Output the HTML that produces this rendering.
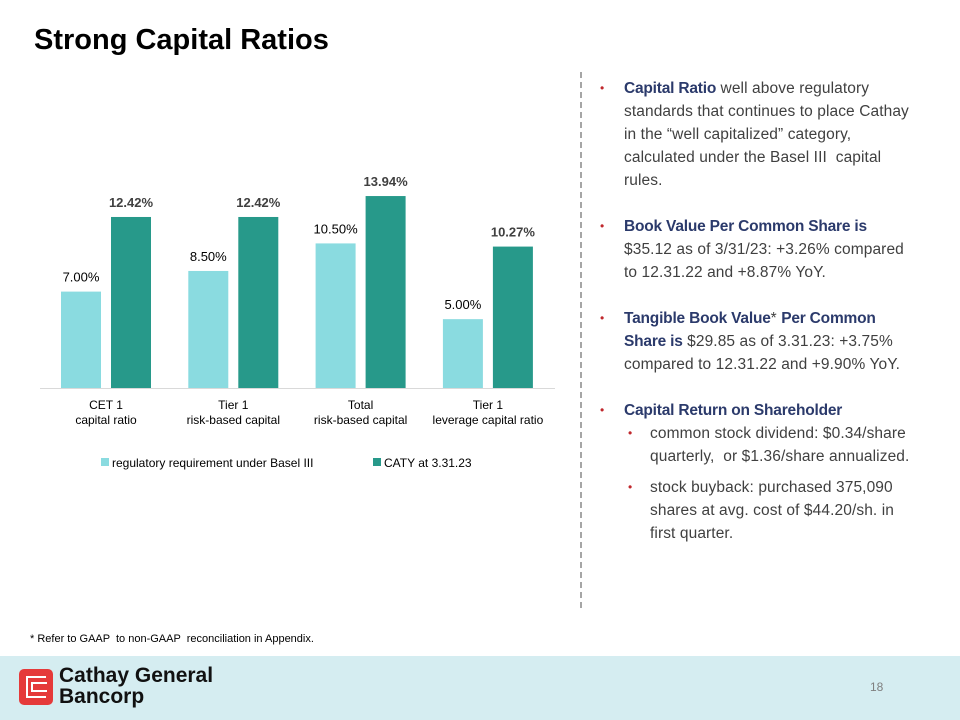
<!DOCTYPE html>
<html><head><meta charset="utf-8"><style>
body{margin:0;width:960px;height:720px;position:relative;background:#fff;font-family:"Liberation Sans",sans-serif;overflow:hidden}
.abs{position:absolute}
h1{position:absolute;left:34px;top:24px;margin:0;font-size:29px;font-weight:bold;color:#000}
.txt{font-size:15.5px;color:#404040;line-height:23px;white-space:nowrap;letter-spacing:0.1px}
.b{font-weight:bold;color:#2b3a6b;letter-spacing:-0.2px}
.bul{position:absolute;color:#c0282d;font-size:12px}
</style></head><body>
<h1>Strong Capital Ratios</h1>
<svg class="abs" style="left:0;top:0" width="570" height="490">
<g id="bars"></g>
<line x1="40" y1="388.5" x2="555" y2="388.5" stroke="#d9d9d9"/>
<g id="labels" font-family="Liberation Sans" font-size="12" fill="#000" text-anchor="middle"></g>
<rect x="101" y="458" width="8" height="8" fill="#8adbe0"/>
<text x="112" y="467" font-size="12">regulatory requirement under Basel III</text>
<rect x="373" y="458" width="8" height="8" fill="#27998a"/>
<text x="384" y="467" font-size="12">CATY at 3.31.23</text>
</svg>
<script>
const categories=[["CET 1","capital ratio"],["Tier 1","risk-based capital"],["Total","risk-based capital"],["Tier 1","leverage capital ratio"]];
const regulatory=[7.00,8.50,10.50,5.00];
const caty=[12.42,12.42,13.94,10.27];
const ns="http://www.w3.org/2000/svg";
const base=388,scale=13.77,g0=61,step=127.3,bw=40;
const y=v=>base-v*scale;
const bars=document.getElementById('bars'),labs=document.getElementById('labels');
function mk(t,a,p){const e=document.createElementNS(ns,t);for(const k in a)e.setAttribute(k,a[k]);p.appendChild(e);return e;}
categories.forEach((c,i)=>{
 const x1=g0+i*step,x2=x1+50;
 const r1=mk('rect',{x:x1,y:y(regulatory[i]),width:bw,height:regulatory[i]*scale,fill:'#8adbe0'},bars);
 
 
 const r2=mk('rect',{x:x2,y:y(caty[i]),width:bw,height:caty[i]*scale,fill:'#27998a'},bars);
 
 
 const t1=mk('text',{x:x1+bw/2,y:y(regulatory[i])-10,'font-size':13},labs);t1.textContent=regulatory[i].toFixed(2)+'%';
 
 
 const t2=mk('text',{x:x2+bw/2,y:y(caty[i])-10,'font-size':13,'font-weight':'bold',fill:'#404040'},labs);t2.textContent=caty[i].toFixed(2)+'%';
 
 
 const cx=x1+45;
 const a=mk('text',{x:cx,y:409},labs);a.textContent=c[0];
 
 
 const b=mk('text',{x:cx,y:424},labs);b.textContent=c[1];
 
 
});
</script>
<div class="abs" style="left:580px;top:72px;height:536px;border-left:2px dashed #a6a6a6"></div>
<div class="abs txt" style="left:624px;top:77px;width:300px">
<div style="position:relative"><span class="bul" style="left:-24px;top:0">•</span><span class="b">Capital Ratio</span> well above regulatory<br>standards that continues to place Cathay<br>in the “well capitalized” category,<br>calculated under the Basel III &nbsp;capital<br>rules.</div>
<div style="height:23px"></div>
<div style="position:relative"><span class="bul" style="left:-24px;top:0">•</span><span class="b">Book Value Per Common Share is</span><br>$35.12 as of 3/31/23: +3.26% compared<br>to 12.31.22 and +8.87% YoY.</div>
<div style="height:23px"></div>
<div style="position:relative"><span class="bul" style="left:-24px;top:0">•</span><span class="b">Tangible Book Value</span>* <span class="b">Per Common</span><br><span class="b">Share is</span> $29.85 as of 3.31.23: +3.75%<br>compared to 12.31.22 and +9.90% YoY.</div>
<div style="height:23px"></div>
<div style="position:relative"><span class="bul" style="left:-24px;top:0">•</span><span class="b">Capital Return on Shareholder</span></div>
<div style="position:relative;padding-left:26px"><span class="bul" style="left:4px;top:0">•</span>common stock dividend: $0.34/share<br>quarterly, &nbsp;or $1.36/share annualized.</div>
<div style="height:8px"></div>
<div style="position:relative;padding-left:26px"><span class="bul" style="left:4px;top:0">•</span>stock buyback: purchased 375,090<br>shares at avg. cost of $44.20/sh. in<br>first quarter.</div>
</div>
<div class="abs" style="left:30px;top:633px;font-size:11px;color:#000">* Refer to GAAP &nbsp;to non-GAAP &nbsp;reconciliation in Appendix.</div>
<div class="abs" style="left:0;top:656px;width:960px;height:64px;background:#d5edf1">
<div class="abs" style="left:19px;top:13px;width:34px;height:36px;background:#e53a3a;border-radius:5px">
<div class="abs" style="left:7px;top:7px;width:20px;height:22px;border:2px solid #fff;border-right:none;box-sizing:border-box"></div>
<div class="abs" style="left:12px;top:13px;width:16px;height:10px;border:2px solid #fff;border-right:none;box-sizing:border-box"></div>
</div>
<div class="abs" style="left:59px;top:9px;font-size:21px;font-weight:bold;line-height:21px;color:#111">Cathay General<br>Bancorp</div>
<div class="abs" style="left:870px;top:24px;font-size:12px;color:#7f7f7f">18</div>
</div>
</body></html>
